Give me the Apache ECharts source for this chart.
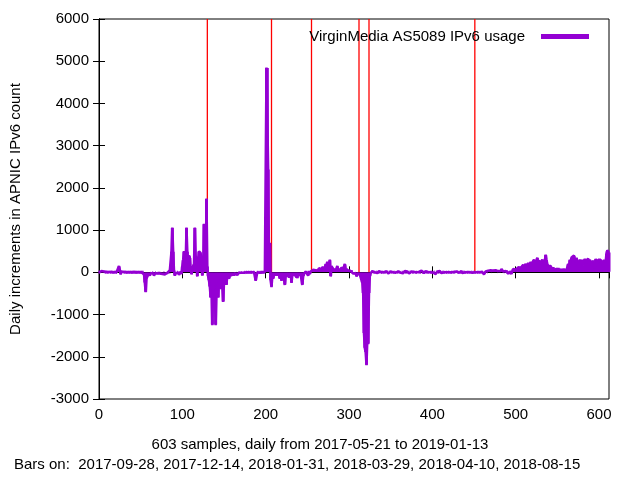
<!DOCTYPE html>
<html><head><meta charset="utf-8">
<script src="https://cdn.jsdelivr.net/npm/echarts@6/dist/echarts.min.js"></script>
<style>html,body{margin:0;background:#fff}#c{width:640px;height:480px}</style>
</head><body><div id="c"></div>
<script>
// daily increments, sample 0..602
const VALUES = [
  0,10,20,30,40,30,20,10,0,10,0,-10,10,20,0,10,0,-10,0,10,
  10,0,20,40,150,60,-50,20,30,-20,10,0,10,0,0,10,0,0,10,0,
  0,0,10,0,0,0,0,10,0,0,0,0,0,0,-50,-250,-470,-150,-100,-60,
  -30,-80,-20,-50,-10,-20,-80,-30,-10,-40,-20,-60,-10,-30,-20,-70,-40,-20,-10,-50,
  -30,-60,-10,-20,-40,50,80,500,1060,500,50,-80,-20,-30,0,-10,-60,-20,20,-40,
  150,300,500,480,250,1060,500,200,400,350,100,-50,80,150,200,1060,400,250,-100,300,
  500,500,450,200,-80,100,1150,400,80,1750,150,-100,-200,-350,-600,-400,-1250,-300,-650,-450,
  -1250,-500,-300,-600,-250,-400,-150,-200,-350,-700,-250,-150,-100,-300,-50,-100,-150,-80,-50,-100,
  -60,-40,-100,-30,-50,-20,-60,-30,-10,-40,-20,-10,-30,-50,-10,0,-20,0,-10,0,
  0,-10,0,0,-20,0,0,-10,-200,-100,0,-20,0,-10,0,0,0,0,0,10,
  50,4850,4850,2450,300,700,-200,-350,-100,-150,-50,-80,-30,-60,-100,-40,-60,-150,-80,-200,
  -100,-50,-150,-300,-100,-80,-40,-60,-120,-90,-50,-250,-70,-40,-100,-60,-30,-120,-150,-70,
  -50,-30,-60,-80,-300,-100,-40,-50,20,30,20,-80,30,-40,20,40,50,60,30,70,
  50,80,60,40,100,90,60,70,120,150,100,80,200,150,250,180,120,300,-100,150,
  120,80,60,100,40,50,150,80,100,60,40,120,90,70,50,200,80,100,60,40,
  80,50,30,60,20,-30,-50,-60,-20,-100,-30,-50,-40,-60,-100,-30,-250,-500,-1450,-1800,
  -1900,-2200,-1600,-1700,-500,-100,-20,10,30,-10,20,0,40,10,-20,0,30,-10,20,0,
  10,-20,0,20,-10,30,0,-30,10,0,20,-10,40,0,-20,10,-10,30,0,20,
  0,10,-10,20,0,-20,10,30,0,-10,20,0,-30,10,0,20,-10,0,10,30,
  -10,0,20,-20,10,0,-10,40,0,10,-20,0,30,-10,10,0,-30,20,0,10,
  20,-10,0,10,-40,0,20,-10,0,30,10,-20,0,10,0,-10,20,0,-20,10,
  0,30,-10,0,20,-10,10,0,-30,20,10,0,-10,20,0,30,-20,0,10,0,
  -10,20,0,10,-20,0,30,10,-10,0,20,0,-10,30,0,10,-20,0,20,10,
  10,-30,-50,-10,20,30,10,40,60,30,50,20,70,40,80,30,50,60,20,30,
  40,60,30,80,50,20,40,-20,30,60,40,-30,-60,20,10,-40,30,80,50,40,
  60,30,90,120,80,150,100,60,140,180,130,160,200,150,120,220,180,150,250,200,
  230,180,300,260,200,220,350,180,280,250,220,250,300,270,200,280,420,300,200,150,
  180,120,150,100,80,140,60,100,50,80,60,120,70,50,90,60,80,50,70,60,
  80,50,60,200,100,300,250,350,320,340,400,300,250,350,200,150,280,320,250,200,
  300,180,150,320,220,280,260,330,200,300,280,150,270,300,250,100,320,280,150,300,
  260,280,300,200,280,150,300,200,260,450,520,500,480
]
const BAR_DAYS = [130, 207, 255, 312, 324, 451]
const NAME = 'VirginMedia AS5089 IPv6 usage'
const PURPLE = '#9400d3'

const F = 'Liberation Sans'
const chart = echarts.init(document.getElementById('c'))
const ax = (extra) => Object.assign({
  type: 'value', axisLine: { lineStyle: { color: '#000' } }, splitLine: { show: false },
  axisTick: { inside: true, length: 6, lineStyle: { color: '#000' } }
}, extra)
const pts = VALUES.map((v, i) => [i, v])
chart.setOption({
  animation: false,
  textStyle: { fontFamily: F },
  grid: { left: 95, right: 31, top: 19, bottom: 81, show: true, borderColor: '#000', borderWidth: 1 },
  xAxis: [
    ax({ min: 0, max: 612, interval: 100, axisLabel: { color: '#000', fontSize: 15, fontFamily: F, margin: 8,
      showMaxLabel: false, formatter: v => String(v) } }),
    ax({ position: 'top', min: 0, max: 612, interval: 100, axisLabel: { show: false } })
  ],
  yAxis: [
    ax({ min: -3000, max: 6000, interval: 1000,
      axisLabel: { color: '#000', fontSize: 15, fontFamily: F, margin: 10, formatter: v => String(v) },
      name: 'Daily increments in APNIC IPv6 count', nameLocation: 'middle', nameGap: 76,
      nameTextStyle: { color: '#000', fontSize: 15, fontFamily: F } }),
    ax({ position: 'right', min: -3000, max: 6000, interval: 1000, axisLabel: { show: false } })
  ],
  legend: {
    top: 24, right: 46, align: 'right', icon: 'rect', itemWidth: 46, itemHeight: 3, itemGap: 0,
    textStyle: { color: '#000', fontSize: 15, fontFamily: F, padding: [0, 12, 0, 0] },
    data: [NAME]
  },
  series: [
    ...BAR_DAYS.map(d => ({
      type: 'line', silent: true, symbol: 'none', z: 1,
      lineStyle: { color: '#ff0000', width: 1.3 }, itemStyle: { color: '#ff0000' },
      data: [[d, 0], [d, 6000]]
    })),
    {
      name: NAME, type: 'bar', barWidth: 1, z: 2,
      itemStyle: { color: PURPLE, borderColor: PURPLE, borderWidth: 3 },
      data: pts
    },
    {
      type: 'line', symbol: 'none', z: 2, silent: true,
      lineStyle: { color: PURPLE, width: 2.5 }, data: pts
    }
  ],
  graphic: [
    { type: 'text', left: 'center', top: 437, style: { text: '603 samples, daily from 2017-05-21 to 2019-01-13', fill: '#000', font: '15px ' + F } },
    { type: 'text', left: 14, top: 457, style: { text: 'Bars on:  2017-09-28, 2017-12-14, 2018-01-31, 2018-03-29, 2018-04-10, 2018-08-15', fill: '#000', font: '15px ' + F } }
  ]
})
</script></body></html>
